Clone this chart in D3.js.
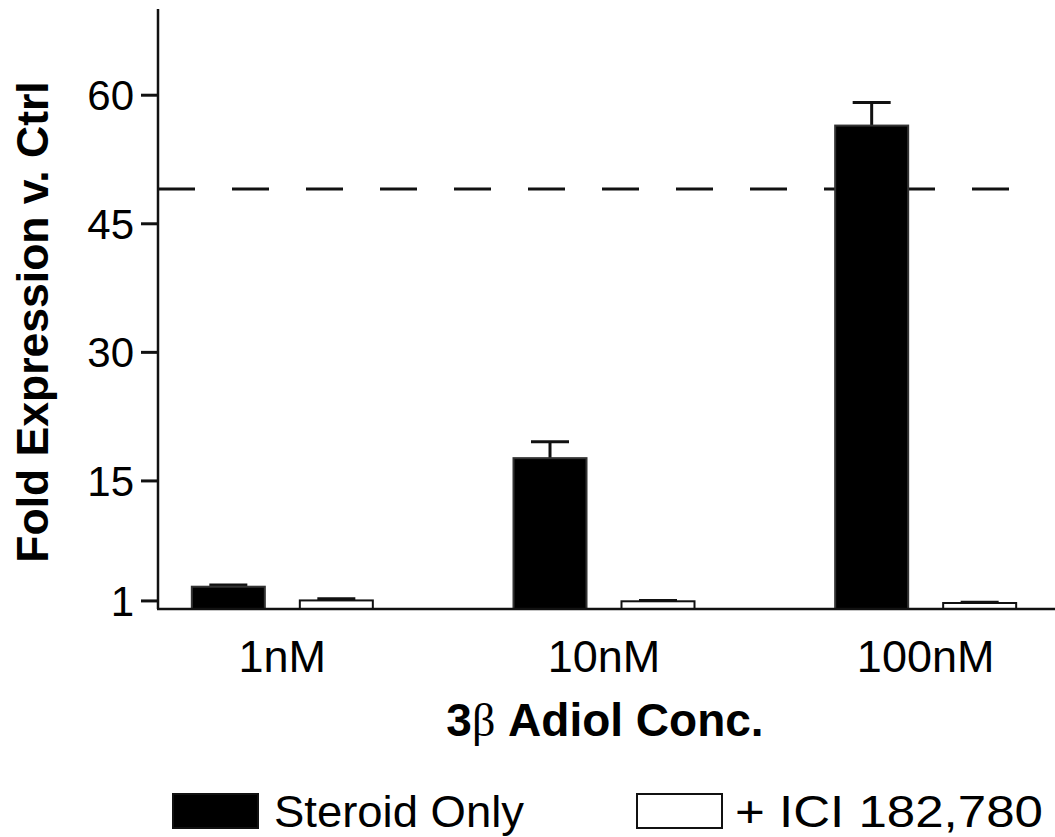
<!DOCTYPE html>
<html>
<head>
<meta charset="utf-8">
<script src="https://cdn.jsdelivr.net/npm/d3@7"></script>
<style>
  body { margin: 0; background: #fff; }
  text { font-family: "Liberation Sans", Arial, sans-serif; fill: #000; }
</style>
</head>
<body>
<div id="chart"></div>
<script>
// data
var categories = ["1nM", "10nM", "100nM"];
var series = ["Steroid Only", "+ ICI 182,780"];
var steroidValues = [2.6, 17.6, 56.4];
var steroidErrors = [0.2, 1.9, 2.7];
var iciValues = [1.0, 0.9, 0.7];
var iciErrors = [0.2, 0.1, 0.1];
var yTicks = [1, 15, 30, 45, 60];
var referenceLine = 49;

var width = 1055, height = 837;

var svg = d3.select("#chart")
  .append("svg")
    .attr("width", width)
    .attr("height", height);

// scales
var y = d3.scaleLinear()
  .domain([0, 70])
  .range([609, 9]);

var x = d3.scaleBand()
  .domain(categories)
  .range([121.5, 1086.5]);

var x1 = d3.scaleBand()
  .domain(series)
  .range([x.bandwidth() / 2 - 90.5, x.bandwidth() / 2 + 90.5])
  .paddingInner(0.324);

var data = [];
categories.forEach(function(c, i) {
  data.push({cat: c, s: series[0], v: steroidValues[i], e: steroidErrors[i]});
  data.push({cat: c, s: series[1], v: iciValues[i], e: iciErrors[i]});
});

var fill = d3.scaleOrdinal().domain(series).range(["#000", "#fff"]);

// dashed reference line
svg.append("line")
  .attr("x1", 158)
  .attr("x2", 1046)
  .attr("y1", y(referenceLine))
  .attr("y2", y(referenceLine))
  .attr("stroke", "#111")
  .attr("stroke-width", 3)
  .attr("stroke-dasharray", "37,37");

// error bars (upper only)
var err = svg.selectAll(".err")
  .data(data)
  .enter()
  .append("g")
    .attr("class", "err")
    .attr("stroke", "#111")
    .attr("stroke-width", 3);

err.append("line")
  .attr("x1", function(d) { return x(d.cat) + x1(d.s) + x1.bandwidth() / 2; })
  .attr("x2", function(d) { return x(d.cat) + x1(d.s) + x1.bandwidth() / 2; })
  .attr("y1", function(d) { return y(d.v); })
  .attr("y2", function(d) { return y(d.v + d.e); });

err.append("line")
  .attr("x1", function(d) { return x(d.cat) + x1(d.s) + x1.bandwidth() / 2 - 19; })
  .attr("x2", function(d) { return x(d.cat) + x1(d.s) + x1.bandwidth() / 2 + 19; })
  .attr("y1", function(d) { return y(d.v + d.e); })
  .attr("y2", function(d) { return y(d.v + d.e); });

// bars
svg.selectAll(".bar")
  .data(data)
  .enter()
  .append("rect")
    .attr("class", "bar")
    .attr("x", function(d) { return x(d.cat) + x1(d.s); })
    .attr("y", function(d) { return y(d.v); })
    .attr("width", x1.bandwidth())
    .attr("height", function(d) { return y(0) - y(d.v); })
    .attr("fill", function(d) { return fill(d.s); })
    .attr("stroke", function(d) { return d.s == series[0] ? "#333" : "#111"; })
    .attr("stroke-width", 2);

// y axis
var yAxis = svg.append("g")
  .attr("transform", "translate(158,0)")
  .call(d3.axisLeft(y).tickValues(yTicks).tickSize(17).tickPadding(7).tickSizeOuter(0));

yAxis.select(".domain")
  .attr("d", "M0," + y(70) + "V" + y(0))
  .attr("stroke", "#111")
  .attr("stroke-width", 2.5);
yAxis.selectAll(".tick line")
  .attr("stroke", "#111")
  .attr("stroke-width", 3);
yAxis.selectAll(".tick text")
  .style("font-size", "42px")
  .attr("dy", "0.36em");

// x axis line
svg.append("line")
  .attr("x1", 157)
  .attr("x2", width)
  .attr("y1", y(0))
  .attr("y2", y(0))
  .attr("stroke", "#111")
  .attr("stroke-width", 2.5);

// category labels
svg.selectAll(".cat")
  .data(categories)
  .enter()
  .append("text")
    .attr("class", "cat")
    .attr("x", function(d) { return x(d) + x.bandwidth() / 2; })
    .attr("y", 672)
    .attr("text-anchor", "middle")
    .style("font-size", "45px")
    .text(function(d) { return d; });

// axis titles
svg.append("text")
  .attr("transform", "translate(48,322)rotate(-90)")
  .attr("text-anchor", "middle")
  .style("font-size", "44.5px")
  .style("font-weight", "bold")
  .text("Fold Expression v. Ctrl");

var xt = svg.append("text")
  .attr("x", 605)
  .attr("y", 736)
  .attr("text-anchor", "middle")
  .style("font-size", "46px")
  .style("font-weight", "bold");
xt.append("tspan").text("3");
xt.append("tspan")
  .style("font-family", "'Liberation Serif', serif")
  .style("font-weight", "normal")
  .text("\u03b2");
xt.append("tspan").text(" Adiol Conc.");

// legend
var legendX = [173, 637];
var legendTextWidth = [250, 308];
var legend = svg.selectAll(".legend")
  .data(series)
  .enter()
  .append("g")
    .attr("class", "legend")
    .attr("transform", function(d, i) { return "translate(" + legendX[i] + ",794)"; });

legend.append("rect")
  .attr("width", 85)
  .attr("height", 34)
  .attr("fill", function(d) { return fill(d); })
  .attr("stroke", "#111")
  .attr("stroke-width", 2);

legend.append("text")
  .attr("x", function(d, i) { return i == 0 ? 101 : 98; })
  .attr("y", 33)
  .attr("textLength", function(d, i) { return legendTextWidth[i]; })
  .attr("lengthAdjust", "spacingAndGlyphs")
  .style("font-size", "45px")
  .text(function(d) { return d; });
</script>
</body>
</html>
